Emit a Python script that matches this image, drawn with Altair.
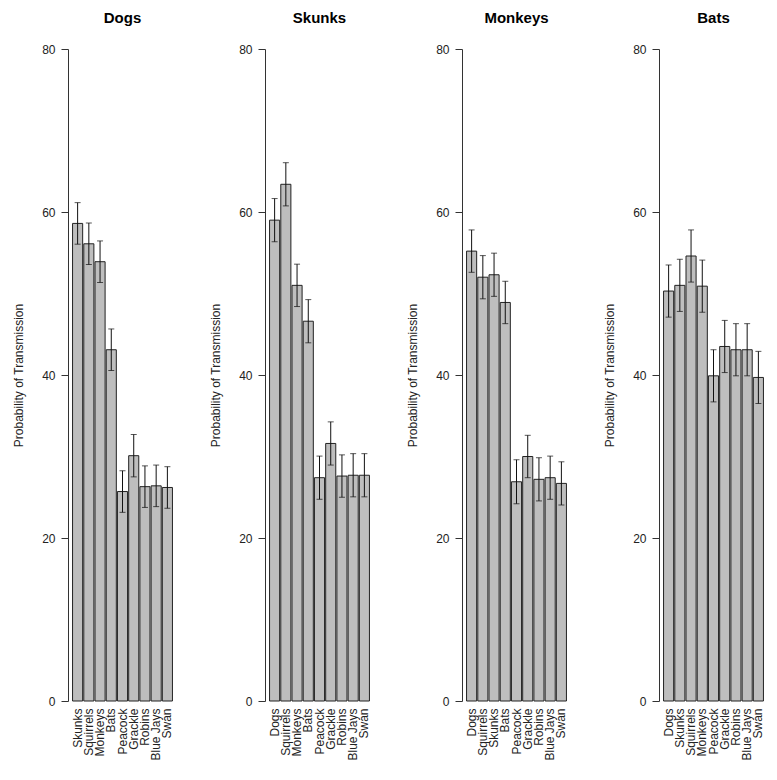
import altair as alt
import pandas as pd

panels = ["Dogs", "Skunks", "Monkeys", "Bats"]

dogs_animals = ["Skunks", "Squirrels", "Monkeys", "Bats", "Peacock", "Grackle", "Robins", "Blue Jays", "Swan"]
dogs_values = [58.6, 56.1, 53.9, 43.1, 25.7, 30.1, 26.3, 26.4, 26.2]
dogs_err = [2.55, 2.55, 2.55, 2.55, 2.55, 2.6, 2.55, 2.55, 2.55]

skunks_animals = ["Dogs", "Squirrels", "Monkeys", "Bats", "Peacock", "Grackle", "Robins", "Blue Jays", "Swan"]
skunks_values = [59.0, 63.4, 51.0, 46.6, 27.4, 31.6, 27.6, 27.7, 27.7]
skunks_err = [2.65, 2.65, 2.6, 2.65, 2.65, 2.65, 2.6, 2.65, 2.65]

monkeys_animals = ["Dogs", "Squirrels", "Skunks", "Bats", "Peacock", "Grackle", "Robins", "Blue Jays", "Swan"]
monkeys_values = [55.2, 52.0, 52.3, 48.9, 26.9, 30.0, 27.2, 27.4, 26.7]
monkeys_err = [2.6, 2.65, 2.65, 2.6, 2.7, 2.6, 2.65, 2.65, 2.65]

bats_animals = ["Dogs", "Skunks", "Squirrels", "Monkeys", "Peacock", "Grackle", "Robins", "Blue Jays", "Swan"]
bats_values = [50.3, 51.0, 54.6, 50.9, 39.9, 43.5, 43.1, 43.1, 39.7]
bats_err = [3.2, 3.2, 3.2, 3.2, 3.2, 3.2, 3.2, 3.2, 3.2]

y_ticks = [0, 20, 40, 60, 80]
y_title = "Probability of Transmission"
FONT = "Liberation Sans"


def panel(name, animals, values, errs):
    df = pd.DataFrame({
        "animal": animals,
        "value": values,
        "lo": [v - e for v, e in zip(values, errs)],
        "hi": [v + e for v, e in zip(values, errs)],
    })
    xscale = alt.Scale(paddingInner=0.1, paddingOuter=0.05)
    x = alt.X("animal:N", sort=animals, scale=xscale, title=None,
              axis=alt.Axis(labelAngle=270, domain=False, ticks=False,
                            labelPadding=7, labelFontSize=12, labelAlign="right",
                            labelBaseline="middle"))
    xs = alt.X("animal:N", sort=animals, scale=xscale, title=None)
    yaxis = alt.Axis(values=y_ticks, offset=4, tickSize=7, labelPadding=6,
                     grid=False, labelFontSize=12, titleFontSize=12,
                     titleFontWeight="normal", titlePadding=16)
    yscale = alt.Scale(domain=[0, 80], nice=False)
    bars = alt.Chart(df).mark_bar(fill="#bebebe", stroke="#222222", strokeWidth=1).encode(
        x=x, y=alt.Y("value:Q", scale=yscale, axis=yaxis, title=y_title))
    rule = alt.Chart(df).mark_rule(color="#111111", strokeWidth=1).encode(
        x=xs, y=alt.Y("lo:Q", scale=yscale, title=y_title), y2="hi:Q")
    cap_lo = alt.Chart(df).mark_tick(color="#111111", size=6, thickness=1).encode(
        x=xs, y=alt.Y("lo:Q", scale=yscale, title=y_title))
    cap_hi = alt.Chart(df).mark_tick(color="#111111", size=6, thickness=1).encode(
        x=xs, y=alt.Y("hi:Q", scale=yscale, title=y_title))
    return alt.layer(bars, rule, cap_lo, cap_hi).properties(
        width=101, height=652,
        title=alt.TitleParams(name, fontSize=15, fontWeight="bold", font=FONT,
                              anchor="middle", offset=17, color="#000000"))


chart = alt.hconcat(
    panel("Dogs", dogs_animals, dogs_values, dogs_err),
    panel("Skunks", skunks_animals, skunks_values, skunks_err),
    panel("Monkeys", monkeys_animals, monkeys_values, monkeys_err),
    panel("Bats", bats_animals, bats_values, bats_err),
    spacing=36,
).properties(
    padding={"left": 4, "top": 3, "right": 2, "bottom": 2}
).configure_view(stroke=None).configure_axis(
    labelFont=FONT, titleFont=FONT, labelColor="#222222", titleColor="#222222",
    domainColor="#333333", tickColor="#333333"
)

chart.save("out.html", embed_options={"renderer": "svg", "actions": False})
